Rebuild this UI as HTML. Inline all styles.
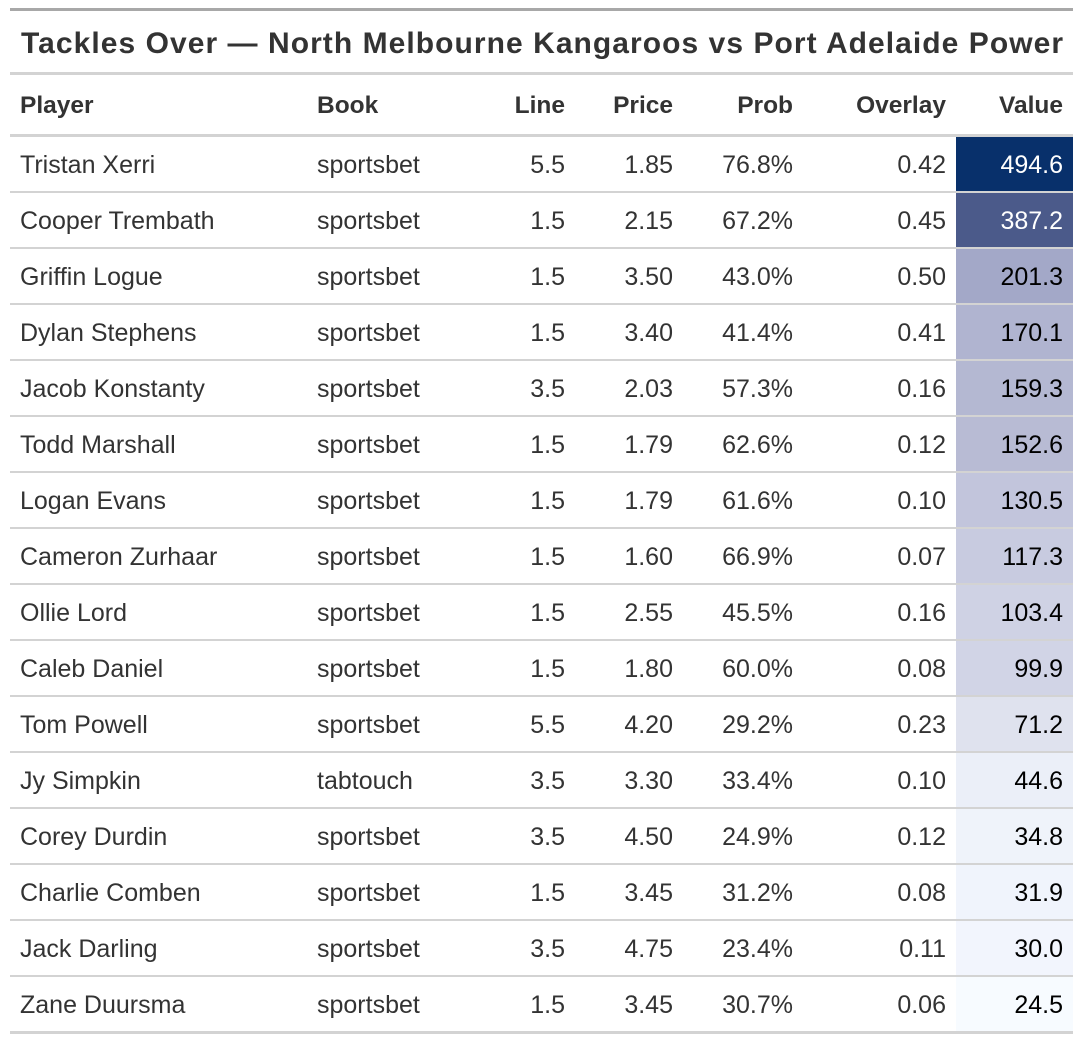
<!DOCTYPE html>
<html><head><meta charset="utf-8"><style>
body{margin:0;background:#fff;width:1082px;height:1042px;overflow:hidden;font-family:"Liberation Sans","DejaVu Sans",sans-serif;color:#333}
.wrap{position:absolute;left:10px;top:8px;width:1063px}
.top{height:3px;background:#a8a8a8}
.title{height:61px;line-height:66px;font-size:30px;font-weight:bold;padding-left:11px;border-bottom:3px solid #d3d3d3;white-space:nowrap;letter-spacing:1.05px}
table{border-collapse:collapse;width:1063px;table-layout:fixed}
th,td{padding:0 10px;font-size:25px;white-space:nowrap}
th{height:57px;padding-top:2px;font-weight:bold;border-bottom:3px solid #d3d3d3;text-align:right;font-size:24.5px}
td{height:51px;padding-top:3px;border-bottom:2px solid #d3d3d3;text-align:right}
tr:last-child td{border-bottom:3px solid #d3d3d3}
.l{text-align:left}
</style></head><body><div class="wrap">
<div class="top"></div>
<div class="title">Tackles Over — North Melbourne Kangaroos vs Port Adelaide Power</div>
<table>
<colgroup><col style="width:297px"><col style="width:160px"><col style="width:108px"><col style="width:108px"><col style="width:120px"><col style="width:153px"><col style="width:117px"></colgroup>
<tr><th class="l">Player</th><th class="l">Book</th><th>Line</th><th>Price</th><th>Prob</th><th>Overlay</th><th>Value</th></tr>
<tr><td class="l">Tristan Xerri</td><td class="l">sportsbet</td><td>5.5</td><td>1.85</td><td>76.8%</td><td>0.42</td><td style="background:#08306b;color:#fff">494.6</td></tr>
<tr><td class="l">Cooper Trembath</td><td class="l">sportsbet</td><td>1.5</td><td>2.15</td><td>67.2%</td><td>0.45</td><td style="background:#4b5a8a;color:#fff">387.2</td></tr>
<tr><td class="l">Griffin Logue</td><td class="l">sportsbet</td><td>1.5</td><td>3.50</td><td>43.0%</td><td>0.50</td><td style="background:#a3a8c8;color:#000">201.3</td></tr>
<tr><td class="l">Dylan Stephens</td><td class="l">sportsbet</td><td>1.5</td><td>3.40</td><td>41.4%</td><td>0.41</td><td style="background:#b0b4d0;color:#000">170.1</td></tr>
<tr><td class="l">Jacob Konstanty</td><td class="l">sportsbet</td><td>3.5</td><td>2.03</td><td>57.3%</td><td>0.16</td><td style="background:#b4b8d2;color:#000">159.3</td></tr>
<tr><td class="l">Todd Marshall</td><td class="l">sportsbet</td><td>1.5</td><td>1.79</td><td>62.6%</td><td>0.12</td><td style="background:#b8bbd4;color:#000">152.6</td></tr>
<tr><td class="l">Logan Evans</td><td class="l">sportsbet</td><td>1.5</td><td>1.79</td><td>61.6%</td><td>0.10</td><td style="background:#c2c5dc;color:#000">130.5</td></tr>
<tr><td class="l">Cameron Zurhaar</td><td class="l">sportsbet</td><td>1.5</td><td>1.60</td><td>66.9%</td><td>0.07</td><td style="background:#c8cbe0;color:#000">117.3</td></tr>
<tr><td class="l">Ollie Lord</td><td class="l">sportsbet</td><td>1.5</td><td>2.55</td><td>45.5%</td><td>0.16</td><td style="background:#cfd2e4;color:#000">103.4</td></tr>
<tr><td class="l">Caleb Daniel</td><td class="l">sportsbet</td><td>1.5</td><td>1.80</td><td>60.0%</td><td>0.08</td><td style="background:#d1d4e6;color:#000">99.9</td></tr>
<tr><td class="l">Tom Powell</td><td class="l">sportsbet</td><td>5.5</td><td>4.20</td><td>29.2%</td><td>0.23</td><td style="background:#dfe2ee;color:#000">71.2</td></tr>
<tr><td class="l">Jy Simpkin</td><td class="l">tabtouch</td><td>3.5</td><td>3.30</td><td>33.4%</td><td>0.10</td><td style="background:#ebeff8;color:#000">44.6</td></tr>
<tr><td class="l">Corey Durdin</td><td class="l">sportsbet</td><td>3.5</td><td>4.50</td><td>24.9%</td><td>0.12</td><td style="background:#eff3fa;color:#000">34.8</td></tr>
<tr><td class="l">Charlie Comben</td><td class="l">sportsbet</td><td>1.5</td><td>3.45</td><td>31.2%</td><td>0.08</td><td style="background:#f0f4fc;color:#000">31.9</td></tr>
<tr><td class="l">Jack Darling</td><td class="l">sportsbet</td><td>3.5</td><td>4.75</td><td>23.4%</td><td>0.11</td><td style="background:#f2f5fd;color:#000">30.0</td></tr>
<tr><td class="l">Zane Duursma</td><td class="l">sportsbet</td><td>1.5</td><td>3.45</td><td>30.7%</td><td>0.06</td><td style="background:#f7fbff;color:#000">24.5</td></tr>
</table></div></body></html>
